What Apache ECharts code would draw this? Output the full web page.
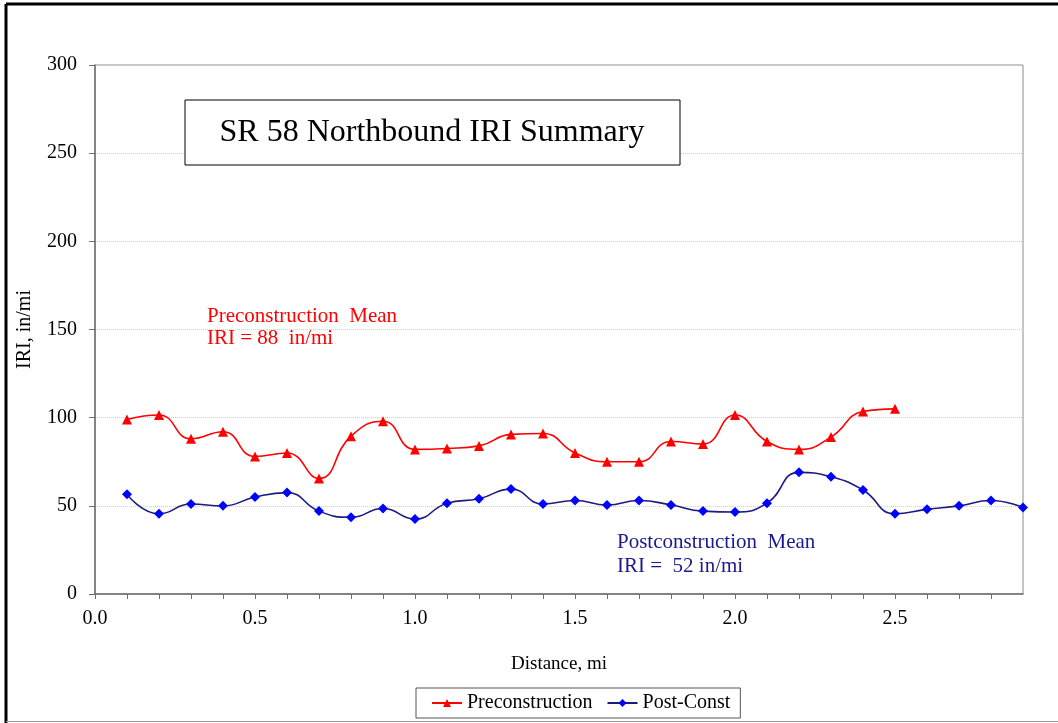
<!DOCTYPE html>
<html>
<head>
<meta charset="utf-8">
<script src="https://cdn.jsdelivr.net/npm/echarts@6/dist/echarts.min.js"></script>
<style>
  html, body { margin: 0; padding: 0; background: #fff; }
  #chart { width: 1058px; height: 723px; }
</style>
</head>
<body>
<div id="chart"></div>
<script>
  // distance along the route, mi
  var distance = [0.1, 0.2, 0.3, 0.4, 0.5, 0.6, 0.7, 0.8, 0.9, 1.0,
    1.1, 1.2, 1.3, 1.4, 1.5, 1.6, 1.7, 1.8, 1.9, 2.0,
    2.1, 2.2, 2.3, 2.4, 2.5, 2.6, 2.7, 2.8, 2.9];
  // IRI, in/mi
  var preconstruction = [99, 101.5, 88, 92, 78, 80, 65.5, 89.5, 98, 82,
    82.5, 84, 90.5, 91, 80, 75, 75, 86.5, 85, 101.5,
    86.5, 82, 89, 103.5, 105];
  var postConst = [56.5, 45.5, 51, 50, 55, 57.5, 47, 43.5, 48.5, 42.5,
    51.5, 54, 59.5, 51, 53, 50.5, 53, 50.5, 47, 46.5,
    51.5, 69, 66.5, 59, 45.5, 48, 50, 53, 49];
  var yTicks = [0, 50, 100, 150, 200, 250, 300];

  function pairs(vals) {
    var out = [];
    vals.forEach(function (v, i) {
      out.push([distance[i], v]);
    });
    return out;
  }

  var font = "Liberation Serif";
  var chart = echarts.init(document.getElementById("chart"));
  var option = {
    backgroundColor: "#fff",
    animation: false,
    textStyle: { fontFamily: font },
    grid: {
      left: 95,
      top: 65,
      right: 35,
      bottom: 129,
      show: true,
      borderColor: "#8c8c8c",
      borderWidth: 1,
    },
    xAxis: {
      type: "value",
      min: 0,
      max: 2.9,
      interval: 0.1,
      name: "Distance, mi",
      nameLocation: "middle",
      nameGap: 61,
      nameTextStyle: { fontFamily: font, fontSize: 19, color: "#000" },
      axisLine: { lineStyle: { color: "#6e6e6e", width: 1.5 } },
      axisTick: { show: true, length: 5, lineStyle: { color: "#6e6e6e" } },
      splitLine: { show: false },
      axisLabel: {
        fontFamily: font,
        fontSize: 20,
        color: "#000",
        margin: 15,
        showMaxLabel: false,
        formatter: function (v) {
          var t = Math.round(v * 10);
          return t % 5 === 0 ? (t / 10).toFixed(1) : "";
        },
      },
    },
    yAxis: {
      type: "value",
      min: yTicks[0],
      max: yTicks[yTicks.length - 1],
      interval: 50,
      name: "IRI, in/mi",
      nameLocation: "middle",
      nameGap: 60,
      nameTextStyle: { fontFamily: font, fontSize: 20, color: "#000" },
      axisLine: { show: true, lineStyle: { color: "#6e6e6e", width: 1.5 } },
      axisTick: { show: true, length: 6, lineStyle: { color: "#6e6e6e" } },
      splitLine: { lineStyle: { color: "#cfcfcf", type: "dotted", width: 1 } },
      axisLabel: { fontFamily: font, fontSize: 20, color: "#000", margin: 18 },
    },
    legend: {
      left: 416,
      top: 688,
      padding: [5, 10, 5, 15],
      itemGap: 14,
      itemWidth: 30,
      itemHeight: 10,
      borderColor: "#555",
      borderWidth: 1,
      textStyle: { fontFamily: font, fontSize: 20, color: "#000" },
      data: ["Preconstruction", "Post-Const"],
    },
    graphic: [
      // outer frame
      { type: "line", shape: { x1: 6, y1: 4, x2: 1058, y2: 4 }, style: { stroke: "#000", lineWidth: 3 } },
      { type: "line", shape: { x1: 6, y1: 4, x2: 6, y2: 723 }, style: { stroke: "#000", lineWidth: 3 } },
      { type: "line", shape: { x1: 6, y1: 721.5, x2: 1058, y2: 721.5 }, style: { stroke: "#9a9a9a", lineWidth: 1 } },
      // title box
      {
        type: "rect",
        shape: { x: 185, y: 100, width: 495, height: 65 },
        style: { fill: "#fff", stroke: "#000", lineWidth: 1 },
        z: 10,
      },
      {
        type: "text",
        x: 432,
        y: 133,
        z: 11,
        style: {
          text: "SR 58 Northbound IRI Summary",
          fontFamily: font,
          fontSize: 32,
          fill: "#000",
          align: "center",
          verticalAlign: "middle",
        },
      },
      {
        type: "text",
        x: 207,
        y: 305,
        z: 11,
        style: {
          text: "Preconstruction  Mean\nIRI = 88  in/mi",
          fontFamily: font,
          fontSize: 21,
          lineHeight: 22,
          fill: "#ff0000",
        },
      },
      {
        type: "text",
        x: 617,
        y: 530,
        z: 11,
        style: {
          text: "Postconstruction  Mean\nIRI =  52 in/mi",
          fontFamily: font,
          fontSize: 21,
          lineHeight: 24,
          fill: "#1a1a8c",
        },
      },
    ],
    series: [
      {
        name: "Preconstruction",
        type: "line",
        smooth: 0.5,
        data: pairs(preconstruction),
        symbol: "triangle",
        symbolSize: 10,
        color: "#ff0000",
        lineStyle: { color: "#ff0000", width: 1.6 },
        itemStyle: { color: "#ff0000" },
      },
      {
        name: "Post-Const",
        type: "line",
        smooth: 0.5,
        data: pairs(postConst),
        symbol: "diamond",
        symbolSize: 10,
        color: "#0000ff",
        lineStyle: { color: "#1c1c80", width: 1.6 },
        itemStyle: { color: "#0000ff" },
      },
    ],
  };
  chart.setOption(option);
</script>
</body>
</html>
